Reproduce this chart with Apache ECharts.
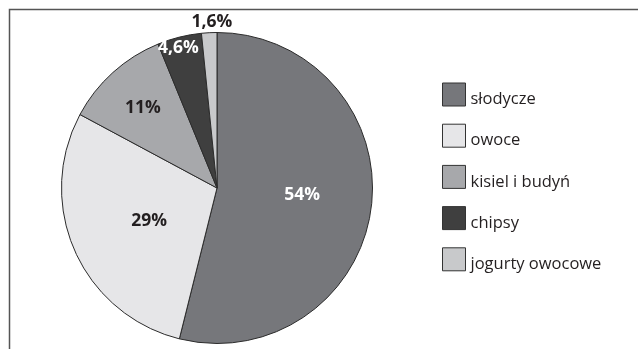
<!DOCTYPE html>
<html>
<head>
<meta charset="utf-8">
<script src="https://cdn.jsdelivr.net/npm/echarts@6/dist/echarts.min.js"></script>
<style>
html,body{margin:0;padding:0;background:#fff;}
#chart{width:638px;height:349px;}
</style>
</head>
<body>
<div id="chart"></div>
<script>
var categories = ['słodycze', 'owoce', 'kisiel i budyń', 'chipsy', 'jogurty owocowe'];
var values = [54, 29, 11, 4.6, 1.6];
var valueLabels = ['54%', '29%', '11%', '4,6%', '1,6%'];
var colors = ['#76777b', '#e6e6e8', '#a7a8ab', '#3f3f3f', '#c8c9cb'];
var labelColors = ['#ffffff', '#231f20', '#231f20', '#ffffff', '#231f20'];
var labelShift = [[5, -3], [6, 0], [-20, -20], [-19, -62], [-1, -85]];

var chart = echarts.init(document.getElementById('chart'), null, {renderer: 'canvas'});
var data = categories.map(function (c, i) {
  return {
    name: c,
    value: values[i],
    itemStyle: {color: colors[i]},
    label: {color: labelColors[i]}
  };
});
chart.setOption({
  animation: false,
  graphic: [{
    type: 'rect',
    shape: {x: 9.5, y: 9.5, width: 700, height: 400},
    style: {fill: 'none', stroke: '#555555', lineWidth: 1.5},
    silent: true
  }],
  legend: {
    orient: 'vertical',
    left: 437,
    top: 76,
    padding: 5,
    itemWidth: 23,
    itemHeight: 23,
    itemGap: 14.2,
    icon: 'rect',
    itemStyle: {borderColor: '#333333', borderWidth: 1},
    formatter: function (name) { return '{t|' + name + '}'; },
    textStyle: {
      fontFamily: 'Open Sans',
      fontSize: 16.5,
      color: '#231f20',
      rich: {
        t: {
          fontFamily: 'Open Sans',
          fontSize: 16.5,
          color: '#231f20',
          lineHeight: 11,
          padding: [10, 0, 0, 0]
        }
      }
    },
    data: categories
  },
  series: [{
    type: 'pie',
    center: [217, 188],
    radius: 155.5,
    startAngle: 90,
    clockwise: true,
    itemStyle: {borderColor: '#2b2b2b', borderWidth: 1},
    label: {
      position: 'inside',
      fontFamily: 'Open Sans',
      fontWeight: 'bold',
      fontSize: 17.5,
      formatter: function (p) { return valueLabels[p.dataIndex]; }
    },
    labelLayout: function (p) {
      var s = labelShift[p.dataIndex];
      return {dx: s[0], dy: s[1]};
    },
    labelLine: {show: false},
    emphasis: {disabled: true},
    data: data
  }]
});
</script>
</body>
</html>
